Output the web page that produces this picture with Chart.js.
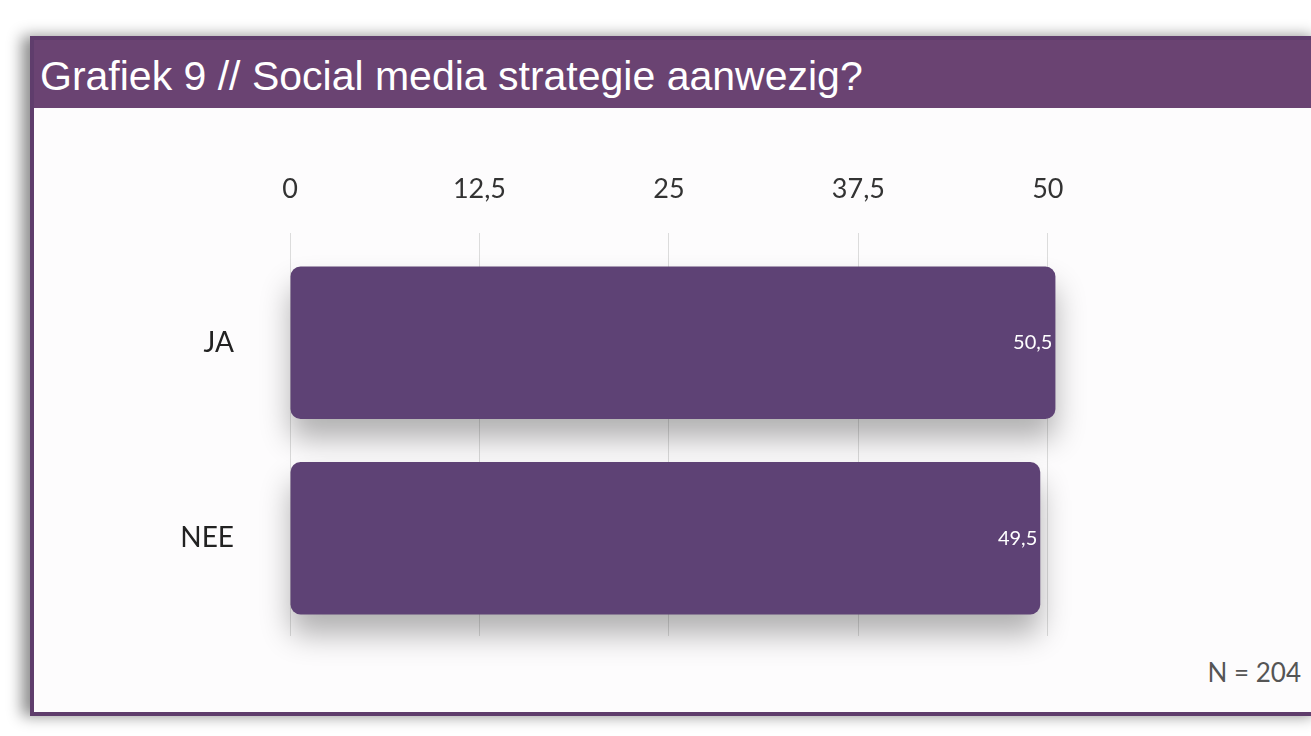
<!DOCTYPE html>
<html>
<head>
<meta charset="utf-8">
<script src="https://cdn.jsdelivr.net/npm/chart.js@4/dist/chart.umd.min.js"></script>
<style>
  html, body { margin: 0; padding: 0; background: #ffffff; overflow: hidden; }
  #panel {
    position: absolute; left: 30px; top: 36px; width: 1283px; height: 672px;
    border: 4px solid #5f3d6c; background: #fdfcfd;
    box-shadow: -8px 0 14px rgba(0,0,0,0.45);
  }
  #header {
    position: absolute; left: 0; top: 0; right: 0; height: 68px;
    background: #6a4372; color: #ffffff;
    font-family: "Liberation Sans", Arial, sans-serif; font-size: 41px;
    line-height: 72px; padding-left: 6px;
  }
  #note {
    position: absolute; right: 16px; bottom: 24px;
    font-family: "Lato", sans-serif; font-size: 26px; color: #555;
  }
  #wrap { position: absolute; left: 0; top: 0; width: 1311px; height: 736px; }
</style>
</head>
<body>
<div id="panel">
  <div id="header">Grafiek 9 // Social media strategie aanwezig?</div>
  <div id="note">N = 204</div>
</div>
<div id="wrap"><canvas id="myChart" width="1311" height="736"></canvas></div>
<script>
const categories = ['JA', 'NEE'];
const percentages = [50.5, 49.5];
const tickValues = [0, 12.5, 25, 37.5, 50];

const fmt = v => String(v).replace('.', ',');

const barShadow = {
    id: 'barShadow',
    beforeDatasetsDraw(chart) {
        const ctx = chart.ctx;
        ctx.save();
        ctx.shadowColor = 'rgba(0,0,0,0.3)';
        ctx.shadowBlur = 30;
        ctx.shadowOffsetY = 20;
    },
    afterDatasetsDraw(chart) {
        chart.ctx.restore();
        const ctx = chart.ctx;
        const meta = chart.getDatasetMeta(0);
        ctx.save();
        ctx.fillStyle = '#ffffff';
        ctx.font = '20px Lato, sans-serif';
        ctx.textAlign = 'right';
        ctx.textBaseline = 'middle';
        meta.data.forEach((bar, i) => {
            ctx.fillText(fmt(percentages[i]), bar.x - 3, bar.y);
        });
        ctx.restore();
    }
};

let myChart = document.getElementById('myChart').getContext('2d');

let thisChart = new Chart(myChart, {
    type: 'bar',
    data: {
        labels: categories,
        datasets: [{
            data: percentages,
            backgroundColor: '#5e4275',
            borderRadius: 10,
            borderSkipped: false,
            barPercentage: 0.78,
            categoryPercentage: 1,
            clip: false
        }]
    },
    options: {
        indexAxis: 'y',
        responsive: false,
        animation: false,
        layout: { padding: { left: 140, right: 248, top: 175, bottom: 100 } },
        plugins: { legend: { display: false }, tooltip: { enabled: false } },
        scales: {
            x: {
                position: 'top',
                min: 0,
                max: 51,
                afterBuildTicks: axis => { axis.ticks = tickValues.map(v => ({ value: v })); },
                afterFit: axis => { axis.height = 70; },
                border: { display: false },
                grid: { color: '#dcdcdc', tickLength: 12 },
                ticks: {
                    padding: 28,
                    color: '#333',
                    font: { family: 'Lato', size: 27 },
                    callback: v => fmt(v)
                }
            },
            y: {
                afterFit: axis => { axis.width = 150; },
                border: { display: false },
                grid: { display: false },
                ticks: {
                    padding: 48,
                    color: '#222',
                    font: { family: 'Lato', size: 28 }
                }
            }
        }
    },
    plugins: [barShadow]
});
</script>
</body>
</html>
